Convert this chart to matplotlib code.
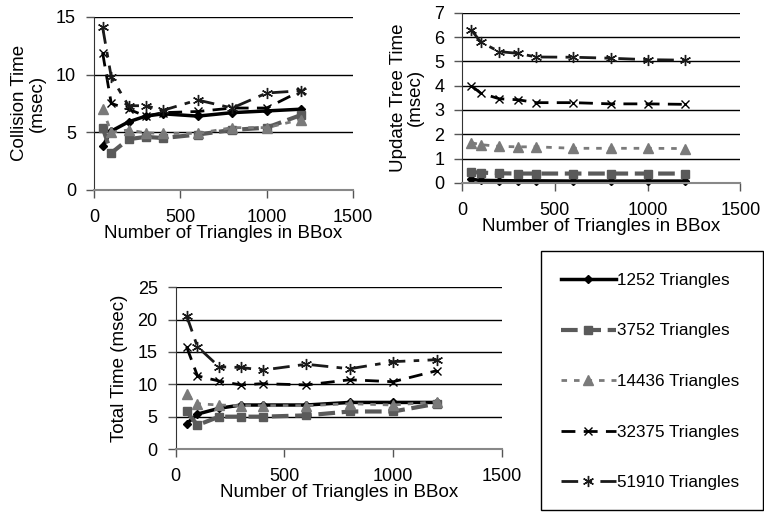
import matplotlib
matplotlib.use("Agg")
import matplotlib.pyplot as plt
from matplotlib.lines import Line2D
from matplotlib.patches import Rectangle

plt.rcParams['font.family'] = ['Liberation Sans', 'DejaVu Sans']

x_tri = [50, 100, 200, 300, 400, 600, 800, 1000, 1200]
series_names = ["1252 Triangles", "3752 Triangles", "14436 Triangles",
                "32375 Triangles", "51910 Triangles"]

collision_1252 = [3.8, 5.1, 5.9, 6.4, 6.6, 6.4, 6.7, 6.85, 7.0]
collision_3752 = [5.4, 3.2, 4.4, 4.6, 4.5, 4.8, 5.2, 5.4, 6.5]
collision_14436 = [7.0, 5.0, 5.2, 4.95, 4.9, 4.9, 5.4, 5.4, 6.1]
collision_32375 = [11.9, 7.5, 7.0, 6.4, 6.7, 6.8, 7.1, 7.1, 8.6]
collision_51910 = [14.1, 9.8, 7.3, 7.3, 6.9, 7.8, 7.1, 8.4, 8.6]

update_1252 = [0.14, 0.1, 0.09, 0.08, 0.08, 0.07, 0.07, 0.07, 0.07]
update_3752 = [0.44, 0.42, 0.39, 0.38, 0.38, 0.38, 0.38, 0.38, 0.38]
update_14436 = [1.65, 1.57, 1.5, 1.48, 1.48, 1.42, 1.42, 1.42, 1.41]
update_32375 = [3.99, 3.69, 3.46, 3.42, 3.3, 3.3, 3.25, 3.25, 3.23]
update_51910 = [6.29, 5.79, 5.4, 5.33, 5.18, 5.17, 5.13, 5.07, 5.05]

total_1252 = [3.9, 5.4, 6.3, 6.8, 6.8, 6.8, 7.2, 7.2, 7.2]
total_3752 = [5.8, 3.7, 5.0, 5.0, 5.0, 5.2, 5.8, 5.8, 7.0]
total_14436 = [8.5, 7.0, 6.8, 6.7, 6.7, 6.7, 7.0, 6.8, 7.3]
total_32375 = [15.8, 11.3, 10.5, 9.9, 10.1, 9.9, 10.7, 10.4, 12.1]
total_51910 = [20.6, 15.8, 12.7, 12.6, 12.2, 13.1, 12.4, 13.5, 13.8]

styles = [
    dict(color='black', lw=2.5, ls='-', marker='D', ms=4),
    dict(color='#5a5a5a', lw=3, ls=(0, (4, 1.6)), marker='s', ms=6),
    dict(color='#7a7a7a', lw=2, ls=(0, (2, 2.5)), marker='^', ms=7),
    dict(color='black', lw=2, ls=(0, (5, 3)), marker='x', ms=6, mew=1.0),
    dict(color='#1a1a1a', lw=2, ls=(0, (6, 3, 2, 3)), marker=(6, 2, 0), ms=8, mew=1.0),
]

TICK_FS = 13
LABEL_FS = 13.5

fig = plt.figure(figsize=(7.64, 5.12), dpi=100)

def setup(ax, ymax, ystep, ylabel, ylabelpad):
    ax.set_xlim(0, 1500)
    ax.set_ylim(0, ymax)
    ax.set_xticks([0, 500, 1000, 1500])
    ax.set_yticks(list(range(0, ymax + 1, ystep)))
    for s in ['top', 'right']:
        ax.spines[s].set_visible(False)
    ax.spines['left'].set_color('#333333')
    ax.spines['bottom'].set_color('#888888')
    ax.spines['bottom'].set_linewidth(1.5)
    ax.yaxis.grid(True, color='black', lw=1)
    ax.set_axisbelow(True)
    ax.tick_params(axis='both', labelsize=TICK_FS, length=6, width=1, color='#555555')
    ax.tick_params(axis='x', pad=8)
    ax.tick_params(axis='y', pad=7)
    ax.set_xlabel("Number of Triangles in BBox", fontsize=LABEL_FS, labelpad=-1)
    ax.set_ylabel(ylabel, fontsize=LABEL_FS, linespacing=1.05, labelpad=ylabelpad)

def draw(ax, data):
    for ys, st in zip(data, styles):
        ax.plot(x_tri, ys, clip_on=False, **st)

ax1 = fig.add_axes([0.123, 0.629, 0.339, 0.338])
draw(ax1, [collision_1252, collision_3752, collision_14436, collision_32375, collision_51910])
setup(ax1, 15, 5, "Collision Time\n(msec)", 7)

ax2 = fig.add_axes([0.605, 0.643, 0.364, 0.332])
draw(ax2, [update_1252, update_3752, update_14436, update_32375, update_51910])
setup(ax2, 7, 1, "Update Tree Time\n(msec)", 7)

ax3 = fig.add_axes([0.230, 0.123, 0.427, 0.316])
draw(ax3, [total_1252, total_3752, total_14436, total_32375, total_51910])
setup(ax3, 25, 5, "Total Time (msec)", 7)

fig.patches.append(Rectangle((541 / 764, 2 / 512), 222 / 764, 259 / 512,
                             transform=fig.transFigure, fill=False,
                             edgecolor='black', lw=1))

handles = [Line2D([], [], **st) for st in styles]
leg = fig.legend(handles, series_names, loc='upper left',
                 bbox_to_anchor=(549 / 764, 1 - 261 / 512), fontsize=12.3,
                 handlelength=3.2, handletextpad=0.1, labelspacing=2.08,
                 borderpad=0.2, frameon=False)

fig.savefig("out.png", dpi=100)
